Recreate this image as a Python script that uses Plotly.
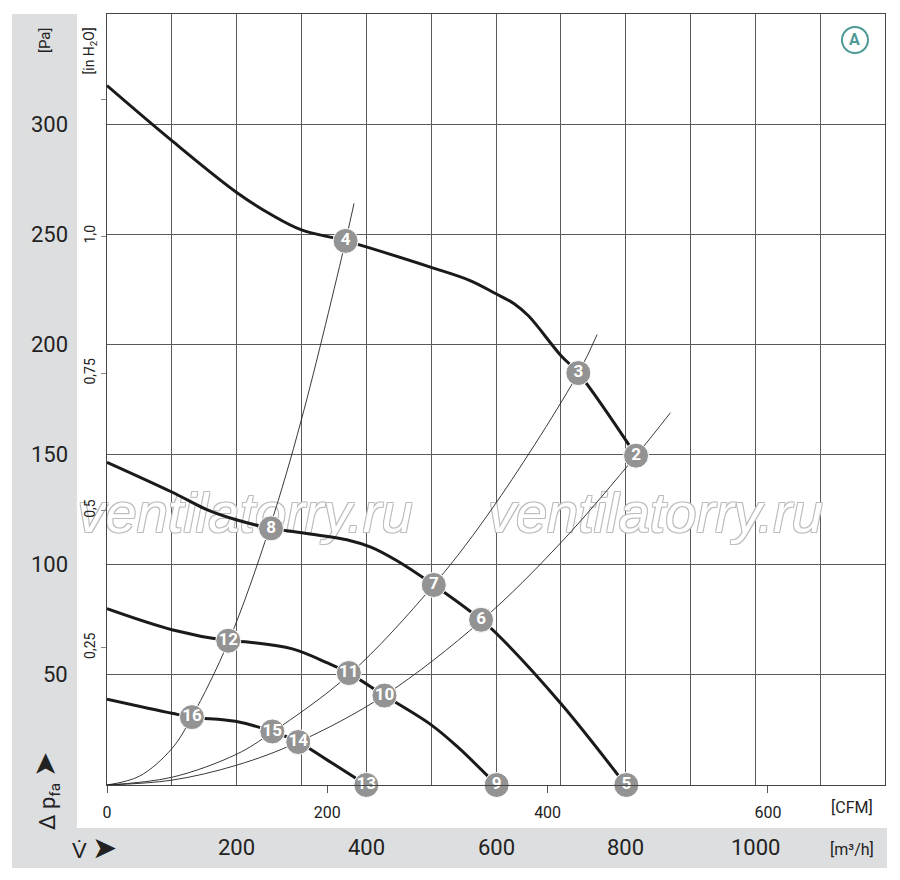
import plotly.graph_objects as go

# fan curves, flow in m3/h, pressure in Pa
q_a = [0, 100, 200, 253, 300, 368, 500, 560, 600, 628, 650, 700, 727, 816]
p_a = [317.5, 292.5, 269, 259, 252, 247, 235, 229, 223, 218.5, 213, 195, 187, 149.5]

q_b = [0, 100, 154, 198, 253, 300, 374, 407, 446, 504, 577, 600, 700, 800]
p_b = [146.5, 133, 125, 120.5, 116.5, 114.5, 111, 108, 102, 90.8, 75, 69, 37, 0]

q_c = [0, 100, 187, 220, 286, 341, 373, 428, 500, 540, 601]
p_c = [80, 70.5, 65.5, 64.8, 61.8, 55.3, 50.8, 40.6, 27.3, 17.5, 0]

q_d = [0, 100, 131, 198, 255, 295, 347, 400]
p_d = [39, 32.6, 30.8, 28.9, 24.3, 19.5, 10, 0]

# system (throttle) curves
q_s1 = [0, 50, 100, 131, 188, 251, 300, 368, 381]
p_s1 = [0, 4, 16.5, 31, 65.5, 117, 166, 247, 264]
q_s2 = [0, 100, 200, 255, 373, 503, 600, 727, 756]
p_s2 = [0, 3.5, 14, 24, 50, 90.5, 128, 187, 204.5]
q_s3 = [0, 100, 200, 295, 427, 577, 700, 816, 869]
p_s3 = [0, 2.2, 9, 19.5, 40.5, 74.5, 110, 149.5, 169]

# operating points
pt_labels = ["2", "3", "4", "5", "6", "7", "8", "9", "10", "11", "12", "13", "14", "15", "16"]
pt_q = [816, 727, 368, 801, 577, 504, 253, 601, 428, 373, 187, 400, 295, 255, 131]
pt_p = [149.5, 187, 247, 0, 75, 90.8, 116.5, 0, 40.6, 50.8, 65.5, 0, 19.5, 24.3, 30.8]

pa_ticks = [50, 100, 150, 200, 250, 300]
inh2o_ticks = [0.25, 0.5, 0.75, 1.0, 1.25]
inh2o_text = ["0,25", "0,5", "0,75", "1,0", ""]
cfm_ticks = [0, 200, 400, 600]
m3h_ticks = [200, 400, 600, 800, 1000]

watermark_q = [213, 846]
watermark_p = [121, 121]

Q_MAX = 1200
P_MAX = 350
PA_PER_INH2O = 249.09
M3H_PER_CFM = 1.699

FONT = "Roboto, Liberation Sans, sans-serif"
GRAY_BAND = "#dddee0"
INK = "#222"

fig = go.Figure()

fig.add_trace(go.Scatter(
    x=watermark_q, y=watermark_p, mode="text", text=["ventilatorry.ru"] * 2,
    textfont=dict(family="Liberation Sans, Arial, sans-serif", size=56, style="italic",
                  color="white",
                  shadow="1px 1px 0 #bdbdbd, -1px -1px 0 #bdbdbd, 1px -1px 0 #bdbdbd, -1px 1px 0 #bdbdbd"),
    cliponaxis=False, hoverinfo="skip", showlegend=False))

for qs, ps in [(q_s1, p_s1), (q_s2, p_s2), (q_s3, p_s3)]:
    fig.add_trace(go.Scatter(x=qs, y=ps, mode="lines", line=dict(color=INK, width=0.9, shape="spline"),
                             hoverinfo="skip", showlegend=False))

for qs, ps in [(q_a, p_a), (q_b, p_b), (q_c, p_c), (q_d, p_d)]:
    fig.add_trace(go.Scatter(x=qs, y=ps, mode="lines", line=dict(color="#1a1a1a", width=3, shape="spline"),
                             hoverinfo="skip", showlegend=False))

# operating points drawn in CFM / inH2O on the secondary axes (that subplot sits on top)
fig.add_trace(go.Scatter(
    x=[q / M3H_PER_CFM for q in pt_q], y=[p / PA_PER_INH2O for p in pt_p], xaxis="x2", yaxis="y2",
    mode="markers+text", text=pt_labels, textposition="middle center",
    marker=dict(size=25, color="#939393", line=dict(color="white", width=1)),
    textfont=dict(family=FONT, size=17, color="white", weight="bold"),
    cliponaxis=False, hoverinfo="skip", showlegend=False))

# gray bands
fig.add_shape(type="rect", xref="paper", yref="paper", x0=-0.1221, x1=-0.0386, y0=-0.1077, y1=1.0,
              fillcolor=GRAY_BAND, line_width=0, layer="below")
fig.add_shape(type="rect", xref="paper", yref="paper", x0=-0.1221, x1=1.0026, y0=-0.1077, y1=-0.0558,
              fillcolor=GRAY_BAND, line_width=0, layer="below")

# circled A
fig.add_shape(type="circle", xref="paper", yref="paper", x0=0.9447, x1=0.9781, y0=0.9494, y1=0.9832,
              line=dict(color="#4e9a96", width=2))
fig.add_annotation(x=0.9614, y=0.9663, xref="paper", yref="paper", text="A", showarrow=False,
                   yanchor="middle", xanchor="center",
                   font=dict(family=FONT, size=16, color="#4e9a96", weight="bold"))

for v in pa_ticks:
    fig.add_annotation(x=-0.047, y=v, xref="paper", yref="y", text=str(v), showarrow=False,
                       xanchor="right", yanchor="middle", font=dict(family=FONT, size=22, color=INK))
for v in m3h_ticks:
    fig.add_annotation(x=v, y=-0.0817, xref="x", yref="paper", text=str(v), showarrow=False,
                       xanchor="center", yanchor="middle", font=dict(family=FONT, size=22, color=INK))


def label(x, y, text, size, angle=0, xa="center", ya="middle"):
    fig.add_annotation(x=x, y=y, xref="paper", yref="paper", text=text, textangle=angle,
                       showarrow=False, xanchor=xa, yanchor=ya,
                       font=dict(family=FONT, size=size, color=INK))


ARROW = "<span style='font-size:30px'>➤</span>"
label(-0.0797, 0.9857, "[Pa]", 15, -90, ya="top")
label(-0.0219, 0.9857, "[in H<sub>2</sub>O]", 14, -90, ya="top")
label(-0.0797, -0.0078, "Δ p<sub>fa</sub> " + ARROW, 22, -90)
label(-0.0156, -0.0817, "V̇ " + ARROW, 22)
label(0.9576, -0.0843, "[m³/h]", 16)
label(0.9576, -0.0298, "[CFM]", 16)

grid = dict(showgrid=True, gridcolor="#5a5a5a", gridwidth=1, zeroline=False)

# the page adds an 8px body margin, so the figure is 8px smaller than the window
fig.update_layout(
    width=892, height=872,
    margin=dict(l=99, r=15, t=6, b=95),
    paper_bgcolor="white", plot_bgcolor="white",
    showlegend=False,
    xaxis=dict(range=[0, Q_MAX], dtick=100, showticklabels=False, ticks="",
               showline=True, linecolor="#444", linewidth=1, mirror=True, **grid),
    yaxis=dict(range=[0, P_MAX], dtick=50, showticklabels=False, ticks="",
               showline=True, linecolor="#444", linewidth=1, mirror=True, **grid),
    xaxis2=dict(overlaying="x", anchor="y", side="bottom", range=[0, Q_MAX / M3H_PER_CFM],
                tickvals=cfm_ticks, ticks="outside", ticklen=7, tickcolor="#555", ticklabelstandoff=6,
                tickfont=dict(family=FONT, size=16, color=INK), showgrid=False, zeroline=False,
                showline=False),
    yaxis2=dict(overlaying="y", anchor="x", side="left", range=[0, P_MAX / PA_PER_INH2O],
                tickvals=inh2o_ticks, ticktext=inh2o_text, ticks="outside", ticklen=5, tickcolor="#888",
                tickangle=-90, tickfont=dict(family=FONT, size=14, color=INK),
                showgrid=False, zeroline=False, showline=False),
)

fig.write_html("out.html")
